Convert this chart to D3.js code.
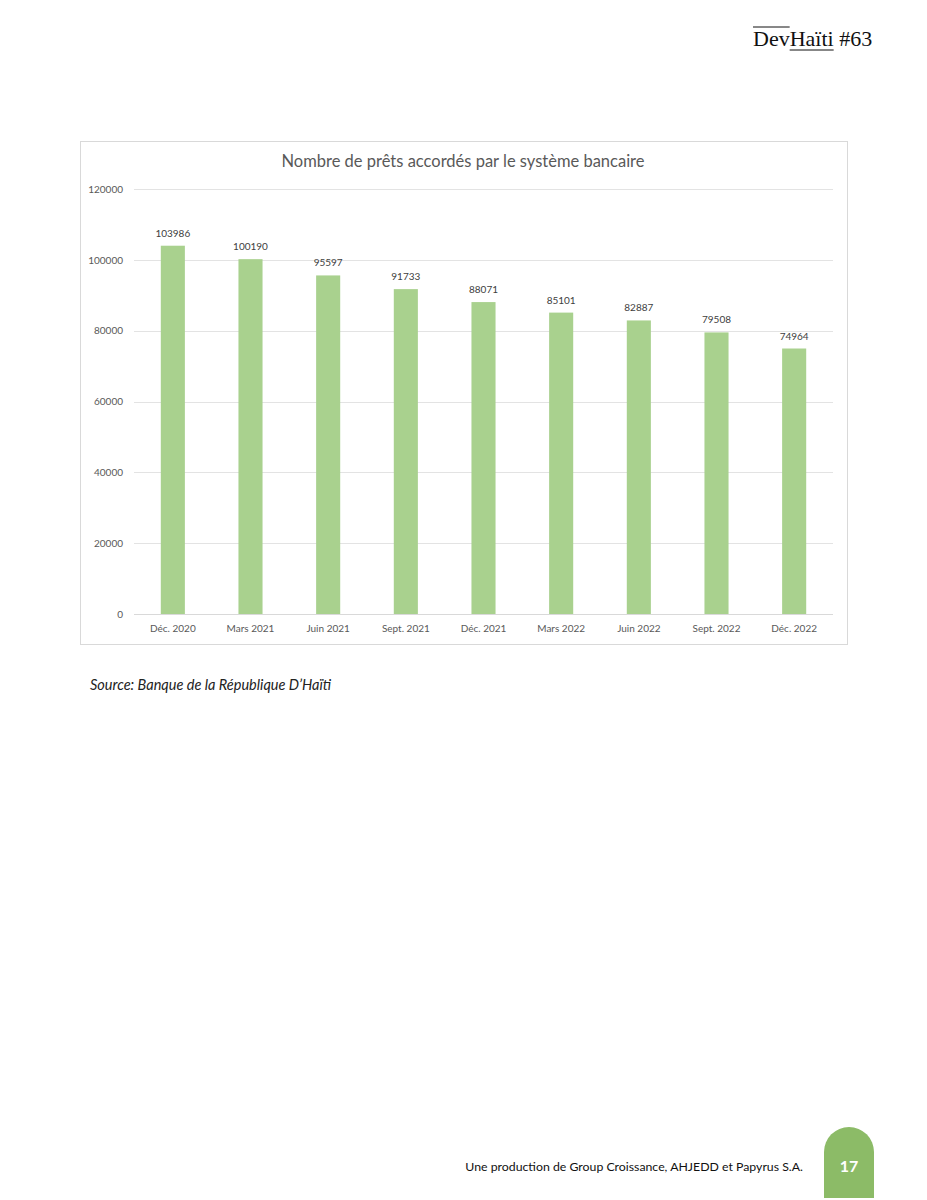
<!DOCTYPE html>
<html><head><meta charset="utf-8">
<script src="https://cdn.jsdelivr.net/npm/d3@7"></script>
<style>
html,body{margin:0;padding:0;background:#fff;}
svg{display:block;}
</style></head>
<body>
<svg id="c" width="927" height="1200"></svg>
<script>
const categories = ["Déc. 2020","Mars 2021","Juin 2021","Sept. 2021","Déc. 2021","Mars 2022","Juin 2022","Sept. 2022","Déc. 2022"];
const values = [103986,100190,95597,91733,88071,85101,82887,79508,74964];
const yTicks = [0,20000,40000,60000,80000,100000,120000];
const title = "Nombre de prêts accordés par le système bancaire";
const source = "Source: Banque de la République D’Haïti";
const footer = "Une production de Group Croissance, AHJEDD et Papyrus S.A.";
const pageNum = "17";

const svg = d3.select("#c");
const font = "Lato, 'Open Sans', sans-serif";

// header
const hdr = svg.append("text").attr("x",753).attr("y",46)
  .attr("font-family","'Liberation Serif', 'DejaVu Serif', serif").attr("font-size",22).attr("fill","#111");
hdr.append("tspan").attr("id","dev").text("Dev");
hdr.append("tspan").attr("id","hai").text("Haïti");
hdr.append("tspan").text(" #63");
(function(){
  const d = document.getElementById("dev"), h = document.getElementById("hai");
  const dx0 = d.getStartPositionOfChar(0).x, dx1 = d.getEndPositionOfChar(2).x;
  const hx0 = h.getStartPositionOfChar(0).x, hx1 = h.getEndPositionOfChar(4).x;
  svg.append("line").attr("x1",dx0).attr("x2",dx1).attr("y1",27).attr("y2",27).attr("stroke","#111").attr("stroke-width",1);
  svg.append("line").attr("x1",hx0).attr("x2",hx1).attr("y1",50).attr("y2",50).attr("stroke","#111").attr("stroke-width",1);
})();

// chart frame
svg.append("rect").attr("x",80.5).attr("y",141.5).attr("width",767).attr("height",503)
  .attr("fill","#fff").attr("stroke","#d9d9d9").attr("stroke-width",1);

svg.append("text").attr("x",463).attr("y",167).attr("text-anchor","middle")
  .attr("font-family",font).attr("font-size",16.5).attr("fill","#595959").text(title);

const x = d3.scaleBand().domain(categories).range([134,833]).paddingInner(0.69).paddingOuter(0.345);
const y = d3.scaleLinear().domain([0,120000]).range([614,189]);

// gridlines
svg.append("g").selectAll("line").data(yTicks).join("line")
  .attr("x1",134).attr("x2",833)
  .attr("y1",d=>Math.round(y(d))+0.5).attr("y2",d=>Math.round(y(d))+0.5)
  .attr("stroke",d=>d===0?"#d9d9d9":"#e3e3e3").attr("stroke-width",1);

// y axis
const yAxis = d3.axisLeft(y).tickValues(yTicks).tickSize(0).tickPadding(0).tickFormat(d3.format("d"));
const ga = svg.append("g").attr("transform","translate(123,0)").call(yAxis);
ga.select(".domain").remove();
ga.selectAll("text").attr("font-family",font).attr("font-size",10).attr("fill","#595959");

// bars
svg.append("g").selectAll("rect").data(values).join("rect")
  .attr("x",(d,i)=>x(categories[i])).attr("width",x.bandwidth())
  .attr("y",d=>y(d)).attr("height",d=>y(0)-y(d)).attr("fill","#a9d18e");

// value labels
svg.append("g").selectAll("text").data(values).join("text")
  .attr("x",(d,i)=>x(categories[i])+x.bandwidth()/2).attr("y",d=>y(d)-9)
  .attr("text-anchor","middle").attr("font-family",font).attr("font-size",10).attr("fill","#404040")
  .text(d=>d);

// x axis
const xAxis = d3.axisBottom(x).tickSize(0).tickPadding(0);
const gx = svg.append("g").attr("transform","translate(0,625)").call(xAxis);
gx.select(".domain").remove();
gx.selectAll("text").attr("font-family",font).attr("font-size",10).attr("fill","#595959").attr("dy","0.71em");

// source
svg.append("text").attr("x",90).attr("y",690).attr("font-family",font).attr("font-style","italic")
  .attr("font-size",14.5).attr("fill","#222").text(source);

// footer
svg.append("text").attr("x",803).attr("y",1171).attr("text-anchor","end").attr("font-family",font)
  .attr("font-size",12.3).attr("fill","#111").text(footer);

// tab
svg.append("path").attr("d","M824,1198 L824,1152 A25,25 0 0 1 874,1152 L874,1198 Z").attr("fill","#8cbb67");
svg.append("text").attr("x",849).attr("y",1172).attr("text-anchor","middle").attr("font-family",font)
  .attr("font-weight","bold").attr("font-size",16).attr("fill","#fff").text(pageNum);
</script>
</body></html>
